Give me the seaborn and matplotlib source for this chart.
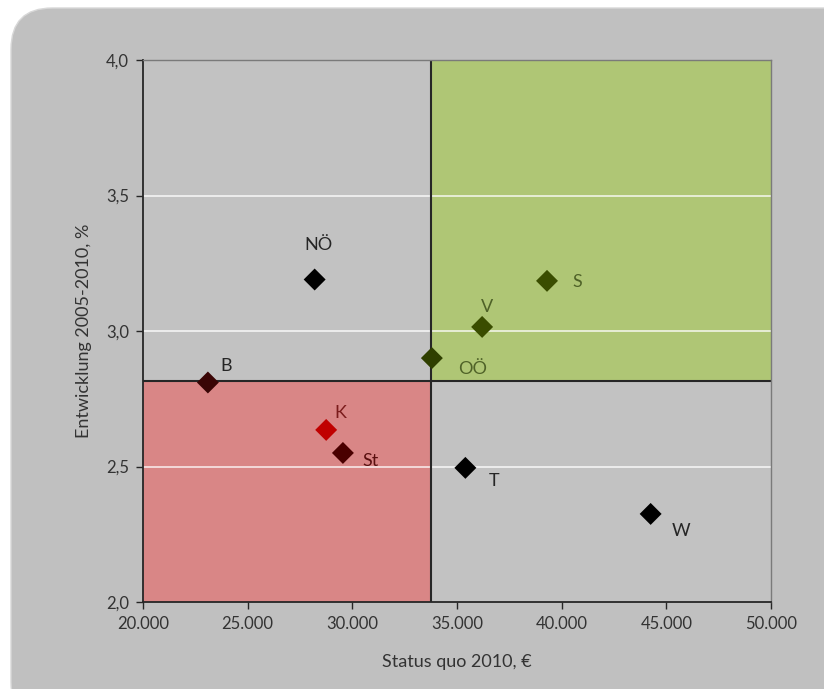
import matplotlib

matplotlib.use("Agg", force=True)

import matplotlib.pyplot as plt
import seaborn as sns
import pandas as pd
from matplotlib.patches import FancyBboxPatch, Rectangle
from matplotlib.ticker import FuncFormatter, MultipleLocator

# Data
regions = ["NÖ", "B", "K", "St", "OÖ", "V", "S", "T", "W"]
status_quo = [28200, 23100, 28750, 29550, 33800, 36200, 39300, 35400, 44250]
entwicklung = [3.19, 2.81, 2.635, 2.55, 2.90, 3.015, 3.185, 2.495, 2.325]
marker_colors = ["#000000", "#3a0505", "#c00000", "#4a0000", "#2f3f00",
                 "#3a4d00", "#3a4d00", "#000000", "#000000"]
label_colors = ["#262626", "#262626", "#7b1c1c", "#5a1010", "#4f6228",
                "#4f6228", "#4f6228", "#262626", "#262626"]
label_offsets = [(3, 25), (13, 12), (10, 12), (20, -6), (29, -8),
                 (3.5, 14), (22, -1), (21, -9.5), (22, -12)]

# Quadrant split values (averages)
x_split = 33760
y_split = 2.815

df = pd.DataFrame({"region": regions, "x": status_quo, "y": entwicklung})

sns.set_style("white")
plt.rcParams["font.family"] = ["Lato", "DejaVu Sans"]

fig = plt.figure(figsize=(8.24, 6.89), dpi=100)
fig.patch.set_facecolor("white")
# rounded grey chart frame
frame = FancyBboxPatch((11 / 824, -0.05), 1.2, 1.05 - 8 / 689,
                       boxstyle="round,pad=0,rounding_size=0.05",
                       transform=fig.transFigure, facecolor="#c0c0c0",
                       edgecolor="#d8d8d8", linewidth=1, zorder=-10,
                       mutation_aspect=824 / 689)
fig.patches.append(frame)

ax = fig.add_axes([143 / 824, 1 - 602 / 689, 628 / 824, 542 / 689])
ax.set_facecolor("#c2c2c2")
ax.set_xlim(20000, 50000)
ax.set_ylim(2.0, 4.0)

# quadrant fills
ax.add_patch(Rectangle((20000, 2.0), x_split - 20000, y_split - 2.0,
                       facecolor="#d98686", edgecolor="none", zorder=0.5))
ax.add_patch(Rectangle((x_split, y_split), 50000 - x_split, 4.0 - y_split,
                       facecolor="#afc675", edgecolor="none", zorder=0.5))

# horizontal gridlines
for yv in [2.5, 3.0, 3.5]:
    ax.axhline(yv, color="white", linewidth=1.3, alpha=0.75, zorder=0.8)

ax.axvline(x_split, color="#262626", linewidth=1.5, zorder=1)
ax.axhline(y_split, color="#262626", linewidth=1.5, zorder=1)

sns.scatterplot(data=df, x="x", y="y", hue="region", palette=marker_colors,
                marker="D", s=125, edgecolor="none", legend=False, ax=ax,
                zorder=3)

for r, xv, yv, c, off in zip(regions, status_quo, entwicklung, label_colors,
                             label_offsets):
    ax.annotate(r, (xv, yv), xytext=off, textcoords="offset points",
                ha="center", va="center", fontsize=13, color=c)

ax.xaxis.set_major_locator(MultipleLocator(5000))
ax.yaxis.set_major_locator(MultipleLocator(0.5))
ax.xaxis.set_major_formatter(FuncFormatter(lambda v, p: f"{v:,.0f}".replace(",", ".")))
ax.yaxis.set_major_formatter(FuncFormatter(lambda v, p: f"{v:.1f}".replace(".", ",")))
ax.tick_params(axis="both", direction="out", length=5, width=1, color="#262626",
               labelsize=12, labelcolor="#333333", left=True, bottom=True, pad=5)

for side in ["left", "bottom"]:
    ax.spines[side].set_color("#262626")
    ax.spines[side].set_linewidth(1.3)
for side in ["top", "right"]:
    ax.spines[side].set_color("#7a7a7a")
    ax.spines[side].set_linewidth(1)

ax.set_xlabel("Status quo 2010, €", fontsize=13, color="#333333", labelpad=16)
ax.set_ylabel("Entwicklung 2005-2010, %", fontsize=13, color="#333333", labelpad=10)

fig.savefig("out.png", dpi=100)
